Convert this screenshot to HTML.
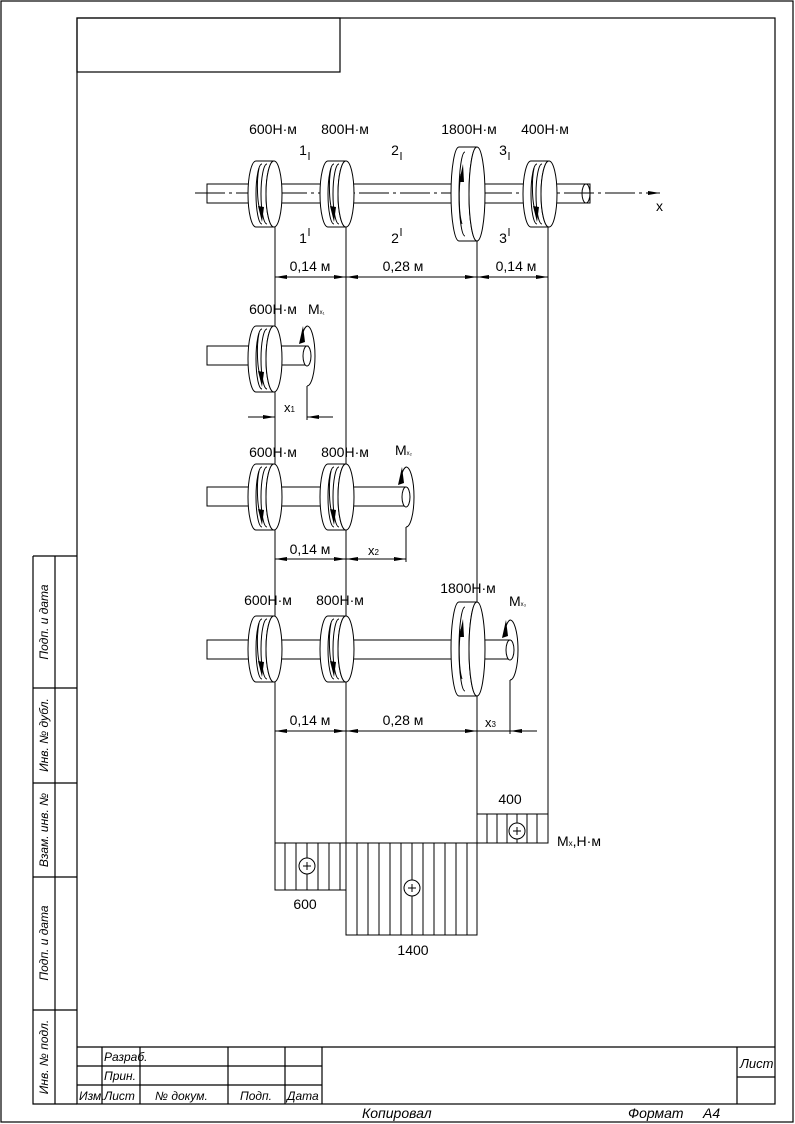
<!DOCTYPE html>
<html><head><meta charset="utf-8"><style>
html,body{margin:0;padding:0;background:#fff}
svg{display:block}
text{font-family:"Liberation Sans",sans-serif;fill:#000}
.t{font-size:14px;text-anchor:middle}
.i{font-style:italic;font-size:12px}
</style></head><body>
<svg width="795" height="1124" viewBox="0 0 795 1124" xmlns="http://www.w3.org/2000/svg">
<defs>
<g id="disk">
  <path d="M-9,-33 A8 33 0 0 0 -9,33 L9,33 A8 33 0 0 1 9,-33 Z" fill="#fff" stroke="#000" stroke-width="1"/>
  <ellipse cx="9" cy="0" rx="8" ry="33" fill="#fff" stroke="#000"/>
  <path d="M-3,-30 A6 30 0 0 0 -3,30" fill="none" stroke="#000"/>
  <path d="M2,-30 A6 30 0 0 0 2,30" fill="none" stroke="#000"/>
  <path d="M-6,-26 A5 26 0 0 0 -4,18" fill="none" stroke="#000"/>
  <path d="M-7,12 L-3,28 L-1,13 Z" fill="#000"/>
</g>
<g id="bigdisk">
  <path d="M-9,-47 A8 47 0 0 0 -9,47 L9,47 A8 47 0 0 1 9,-47 Z" fill="#fff" stroke="#000"/>
  <ellipse cx="9" cy="0" rx="8" ry="47" fill="#fff" stroke="#000"/>
  <path d="M-3,-42 A6 42 0 0 0 -3,42" fill="none" stroke="#000"/>
  <path d="M-7,-20 A5 30 0 0 0 -6,30" fill="none" stroke="#000"/>
  <path d="M-9,-12 L-5,-30 L-4,-12 Z" fill="#000"/>
</g>
<g id="mom">
  <path d="M0,-30 A8 30 0 0 1 0,30" fill="none" stroke="#000"/>
  <path d="M0,-30 A8 30 0 0 0 -6,-14" fill="none" stroke="#000"/>
  <path d="M-8,-12 L-4,-30 L-2,-14 Z" fill="#000"/>
  <ellipse cx="0" cy="0" rx="4" ry="10" fill="#fff" stroke="#000"/>
</g>
<marker id="ar" markerWidth="12" markerHeight="6" refX="12" refY="3" orient="auto" markerUnits="userSpaceOnUse"><path d="M0,1 L12,3 L0,5 Z" fill="#000"/></marker>
<marker id="al" markerWidth="12" markerHeight="6" refX="0" refY="3" orient="auto" markerUnits="userSpaceOnUse"><path d="M12,1 L0,3 L12,5 Z" fill="#000"/></marker>
</defs>

<g fill="none" stroke="#000" stroke-width="1.2">
<rect x="1" y="1" width="792" height="1121"/>
<rect x="77" y="18" width="698" height="1086"/>
<rect x="77" y="18" width="263" height="54"/>
<!-- left strip -->
<path d="M33,556 H77 M33,556 V1104 H77 M55,556 V1104 M33,688 H77 M33,783 H77 M33,877 H77 M33,1010 H77"/>
<!-- title block -->
<path d="M77,1047 H775 M77,1066 H322 M77,1085 H322 M102,1047 V1104 M140,1047 V1104 M228,1047 V1104 M285,1047 V1104 M322,1047 V1104 M737,1047 V1104 M737,1077 H775"/>
</g>
<g class="i">
<text x="104" y="1061">Разраб.</text>
<text x="104" y="1080">Прин.</text>
<text x="79" y="1100">Изм.</text>
<text x="104" y="1100">Лист</text>
<text x="155" y="1100">№ докум.</text>
<text x="240" y="1100">Подп.</text>
<text x="287" y="1100">Дата</text>
<text x="740" y="1068" style="font-size:13px">Лист</text>
<text x="362" y="1118" style="font-size:14px">Копировал</text>
<text x="628" y="1118" style="font-size:14px">Формат</text>
<text x="703" y="1118" style="font-size:14px">А4</text>
<text transform="translate(48,622) rotate(-90)" text-anchor="middle">Подп. и дата</text>
<text transform="translate(48,735) rotate(-90)" text-anchor="middle">Инв. № дубл.</text>
<text transform="translate(48,830) rotate(-90)" text-anchor="middle">Взам. инв. №</text>
<text transform="translate(48,943) rotate(-90)" text-anchor="middle">Подп. и дата</text>
<text transform="translate(48,1057) rotate(-90)" text-anchor="middle">Инв. № подл.</text>
</g>

<!-- vertical reference lines -->
<g stroke="#000" stroke-width="1">
<path d="M275,227 V890 M346,227 V935 M477,241 V935 M548,227 V843"/>
</g>

<!-- Shaft 1 -->
<g stroke="#000" fill="#fff">
<rect x="207" y="184" width="383" height="19"/>
<ellipse cx="586" cy="193.5" rx="4" ry="9.5"/>
</g>
<line x1="195" y1="193" x2="660" y2="193" stroke="#000" stroke-dasharray="30,4,3,4" marker-end="url(#ar)"/>
<use href="#disk" x="265" y="194"/>
<use href="#disk" x="337" y="194"/>
<use href="#bigdisk" x="468" y="194"/>
<use href="#disk" x="540" y="194"/>
<text x="656" y="211" style="font-size:14px">x</text>
<g class="t">
<text x="273" y="134">600Н·м</text>
<text x="345" y="134">800Н·м</text>
<text x="469" y="134">1800Н·м</text>
<text x="545" y="134">400Н·м</text>
<text x="303" y="155">1</text><text x="395" y="155">2</text><text x="503" y="155">3</text>
<text x="303" y="243">1</text><text x="395" y="243">2</text><text x="503" y="243">3</text>
</g>
<path d="M309,152 V160 M401,152 V160 M509,152 V160 M309,228 V236 M401,228 V236 M509,228 V236" stroke="#000"/>
<!-- dims row 1 -->
<g stroke="#000">
<line x1="275" y1="277" x2="346" y2="277" marker-start="url(#al)" marker-end="url(#ar)"/>
<line x1="346" y1="277" x2="477" y2="277" marker-start="url(#al)" marker-end="url(#ar)"/>
<line x1="477" y1="277" x2="548" y2="277" marker-start="url(#al)" marker-end="url(#ar)"/>
</g>
<g class="t">
<text x="310" y="271">0,14  м</text>
<text x="403" y="271">0,28  м</text>
<text x="516" y="271">0,14  м</text>
</g>

<!-- Section 1 -->
<rect x="207" y="346" width="101" height="19" fill="#fff" stroke="#000"/>
<use href="#disk" x="265" y="359"/>
<use href="#mom" x="307" y="356"/>
<path d="M307,386 V420" stroke="#000"/>
<line x1="248" y1="417" x2="275" y2="417" stroke="#000" marker-end="url(#ar)"/>
<line x1="307" y1="417" x2="333" y2="417" stroke="#000" marker-start="url(#al)"/>
<text class="t" x="273" y="314">600Н·м</text>
<text x="308" y="314" style="font-size:14px">M<tspan style="font-size:6px">x₁</tspan></text>
<text x="284" y="412" style="font-size:13px">x<tspan style="font-size:8px">1</tspan></text>

<!-- Section 2 -->
<rect x="207" y="487" width="199" height="19" fill="#fff" stroke="#000"/>
<use href="#disk" x="265" y="497"/>
<use href="#disk" x="337" y="497"/>
<use href="#mom" x="406" y="497"/>
<path d="M406,527 V562" stroke="#000"/>
<line x1="275" y1="559" x2="346" y2="559" stroke="#000" marker-start="url(#al)" marker-end="url(#ar)"/>
<line x1="346" y1="559" x2="406" y2="559" stroke="#000" marker-start="url(#al)" marker-end="url(#ar)"/>
<g class="t">
<text x="273" y="457">600Н·м</text>
<text x="345" y="457">800Н·м</text>
<text x="310" y="554">0,14  м</text>
</g>
<text x="395" y="455" style="font-size:14px">M<tspan style="font-size:6px">x₂</tspan></text>
<text x="368" y="555" style="font-size:13px">x<tspan style="font-size:8px">2</tspan></text>

<!-- Section 3 -->
<rect x="207" y="640" width="303" height="19" fill="#fff" stroke="#000"/>
<use href="#disk" x="265" y="649"/>
<use href="#disk" x="337" y="649"/>
<use href="#bigdisk" x="468" y="649"/>
<use href="#mom" x="510" y="650"/>
<path d="M510,680 V734" stroke="#000"/>
<line x1="275" y1="731" x2="346" y2="731" stroke="#000" marker-start="url(#al)" marker-end="url(#ar)"/>
<line x1="346" y1="731" x2="477" y2="731" stroke="#000" marker-start="url(#al)" marker-end="url(#ar)"/>
<line x1="477" y1="731" x2="537" y2="731" stroke="#000"/>
<path d="M510,731 L522,729 L522,733 Z" fill="#000"/>
<g class="t">
<text x="268" y="605">600Н·м</text>
<text x="340" y="605">800Н·м</text>
<text x="468" y="593">1800Н·м</text>
<text x="310" y="725">0,14  м</text>
<text x="403" y="725">0,28  м</text>
</g>
<text x="509" y="606" style="font-size:14px">M<tspan style="font-size:6px">x₃</tspan></text>
<text x="485" y="727" style="font-size:13px">x<tspan style="font-size:8px">3</tspan></text>

<!-- Diagram -->
<g stroke="#000" fill="none">
<path d="M275,843 H548 V814 H477 V843"/>
<path d="M275,843 V890 H346 V935 H477 V843"/>
<path d="M487,814V843M497,814V843M507,814V843M517,814V843M527,814V843M537,814V843"/>
<path d="M285,843V890M296,843V890M307,843V890M318,843V890M329,843V890M340,843V890"/>
<path d="M357,843V935M368,843V935M379,843V935M390,843V935M401,843V935M412,843V935M423,843V935M434,843V935M445,843V935M456,843V935M467,843V935"/>
<circle cx="517" cy="831" r="8" fill="#fff"/>
<circle cx="307" cy="866" r="8" fill="#fff"/>
<circle cx="412" cy="888" r="8" fill="#fff"/>
<path d="M513,831H521M517,827V835 M303,866H311M307,862V870 M408,888H416M412,884V892"/>
</g>
<g class="t">
<text x="510" y="804">400</text>
<text x="305" y="909">600</text>
<text x="413" y="955">1400</text>
</g>
<text x="557" y="846" style="font-size:14px">M<tspan style="font-size:8px">x</tspan>,Н·м</text>
</svg>
</body></html>
